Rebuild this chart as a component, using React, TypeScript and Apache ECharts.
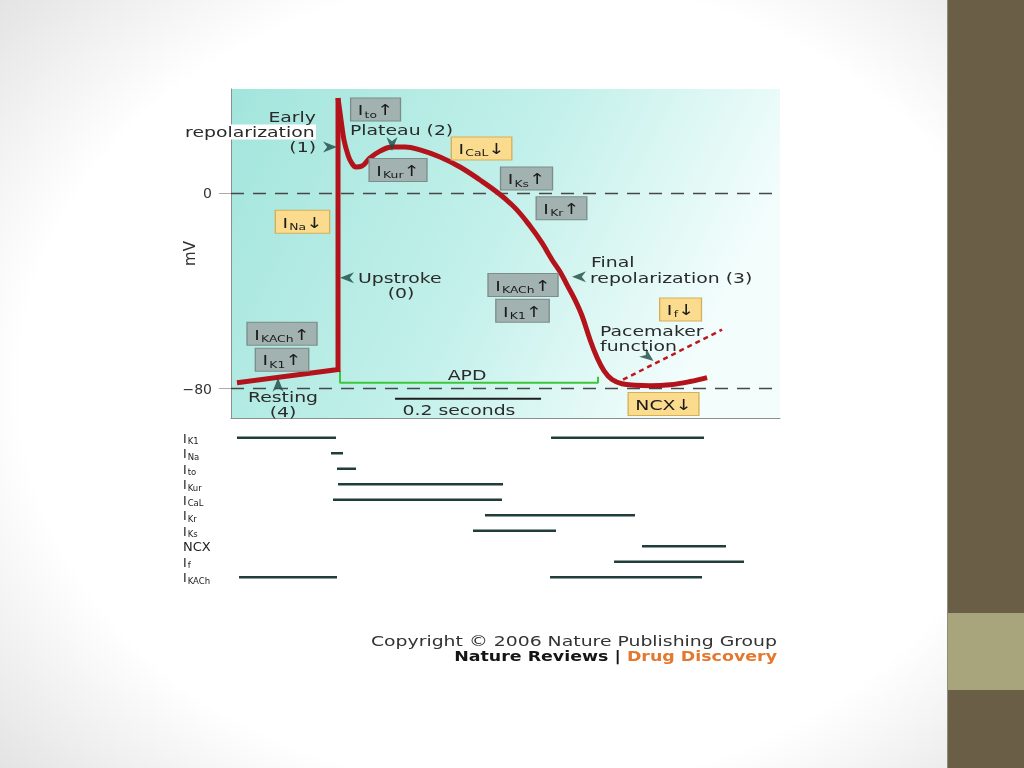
import React, { useEffect, useRef } from 'react';
import * as echarts from 'echarts';

const FONT = 'DejaVu Sans';
const SX = 1.3;

// ---- Action potential (time in ms, membrane potential in mV) ----
const apResting = [[8.2, -77.6], [146.6, -72.2], [146.6, 38.8]];
const apRepol = [
  [146.6, 38.8], [150.7, 29.8], [154.8, 21.6], [160.3, 15.5], [164.4, 12.7], [171.2, 10.6],
  [179.5, 11.0], [190.4, 14.3], [204.1, 17.1], [220.5, 18.8], [238.4, 18.8], [258.9, 17.6],
  [286.3, 14.7], [313.7, 10.6], [341.1, 5.3], [365.8, 0], [389, -6.1], [409.6, -13.5],
  [426, -20.4], [439.7, -27.3], [450.7, -32.2], [460.3, -37.6], [471.2, -43.7],
  [480.8, -50.2], [491.8, -60], [501.4, -67.3], [511, -72.7], [521.9, -76.3],
  [535.6, -78], [553.4, -78.6], [574, -78.8], [601.4, -78.4], [628.8, -77.1], [652.1, -75.5]
];
const pacemaker = [[537, -76.3], [672.6, -55.9]];
const apd = [[149.3, -72.7], [149.3, -77.6], [502.7, -77.6], [502.7, -75.1]];
const scaleBar = [[224.7, -84.1], [424.7, -84.1]];
const yTicks = [0, -80];
const refLines = [0, -80];

// ---- Ionic currents activity (start ms, end ms, row) ----
const currents = ['K1', 'Na', 'to', 'Kur', 'CaL', 'Kr', 'Ks', 'NCX', 'f', 'KACh'];
const currentSpans = [
  [8.2, 143.8, 0], [438.4, 647.9, 0],
  [137, 153.4, 1],
  [145.2, 171.2, 2],
  [146.6, 372.6, 3],
  [139.7, 371.2, 4],
  [347.9, 553.4, 5],
  [331.5, 445.2, 6],
  [563, 678, 7],
  [524.7, 702.7, 8],
  [11, 145.2, 9], [437, 645.2, 9]
];

// ---- Annotation boxes (current, direction, anchor in ms/mV) ----
const boxCurrents = ['to', 'Kur', 'Na', 'CaL', 'Ks', 'Kr', 'KACh', 'K1', 'KACh', 'K1', 'f', 'NCX'];
const boxArrows = ['↑', '↑', '↓', '↓', '↑', '↑', '↑', '↑', '↑', '↑', '↓', '↓'];
const boxAt = [
  [198, 34.1], [228.8, 9.4], [97.9, -11.8], [343.2, 18.2], [404.8, 5.9], [452.7, -6.3],
  [69.9, -57.6], [69.9, -68.2], [400, -37.6], [399.3, -48.2], [615.8, -47.6], [592.5, -86.3]
];

// ---- Text notes ----
const noteTexts = ['Early', 'repolarization', '(1)', 'Plateau (2)', 'Upstroke', '(0)', 'Resting', '(4)',
  'Final', 'repolarization (3)', 'Pacemaker', 'function', 'APD', '0.2 seconds'];
const noteAt = [
  [116.4, 31], [116.4, 24.9], [116.4, 18.8], [163, 25.7], [174, -34.7], [232.9, -40.8],
  [71.2, -83.3], [71.2, -89.4], [493.2, -28.2], [491.8, -34.7], [505.5, -56.3], [505.5, -62.4],
  [323.3, -74.3], [312.3, -88.6]
];
const noteAlign = ['right', 'right', 'right', 'left', 'left', 'center', 'center', 'center',
  'left', 'left', 'left', 'left', 'center', 'center'];

// ---- Pointer arrowheads ----
const pointerAt = [[135.6, 18.8], [220.5, 20.0], [158.9, -34.7], [64.4, -78.4], [476.7, -34.3], [571.2, -66.9]];
const pointerRot = [0, -90, 180, 90, 180, -38];

export default function App() {
  const ref = useRef<HTMLDivElement>(null);
  useEffect(() => {
    if (!ref.current) return;
    const chart = echarts.init(ref.current, null, { renderer: 'svg' });
    const option: any = {
      animation: false,
      grid: [
        {
          left: 231, top: 89, width: 549, height: 329, show: true, borderWidth: 0,
          backgroundColor: new echarts.graphic.LinearGradient(0, 0, 1, 0.3, [
            { offset: 0, color: '#a2e5dc' },
            { offset: 0.55, color: '#c2f0ea' },
            { offset: 1, color: '#f2fdfc' }
          ])
        },
        { left: 231, top: 430, width: 549, height: 155 }
      ],
      xAxis: [
        {
          type: 'value', gridIndex: 0, min: 0, max: 752,
          axisLine: { show: true, onZero: false, lineStyle: { color: '#8a8f8f', width: 1 } },
          axisTick: { show: false }, axisLabel: { show: false }, splitLine: { show: false }
        },
        { type: 'value', gridIndex: 1, min: 0, max: 752, show: false }
      ],
      yAxis: [
        {
          type: 'value', gridIndex: 0, min: -92, max: 42.5,
          name: 'mV', nameLocation: 'middle', nameGap: 34, nameRotate: 90, nameMoveOverlap: false,
          nameTextStyle: { fontFamily: FONT, fontSize: 15, color: '#333' },
          axisLine: { show: true, onZero: false, lineStyle: { color: '#8a8f8f', width: 1 } },
          axisTick: { show: true, customValues: yTicks, length: 12, lineStyle: { color: '#aaaaaa' } },
          axisLabel: {
            show: true, customValues: yTicks, margin: 19, fontFamily: FONT, fontSize: 14, color: '#333',
            formatter: (v: number) => (v < 0 ? '\u2212' + Math.abs(v) : String(v))
          },
          splitLine: { show: false }
        },
        {
          type: 'category', gridIndex: 1, data: currents, inverse: true,
          axisLine: { show: false }, axisTick: { show: false }, splitLine: { show: false },
          axisLabel: {
            interval: 0, align: 'left', margin: 48, color: '#222', fontFamily: FONT,
            formatter: (v: string) => (v === 'NCX' ? '{n|NCX}' : '{i|I}{s|' + v + '}'),
            rich: {
              i: { fontSize: 12.5, fontFamily: FONT, color: '#222', lineHeight: 12, verticalAlign: 'top' },
              s: { fontSize: 8.5, fontFamily: FONT, color: '#222', lineHeight: 8, padding: [5, 0, 0, 1], verticalAlign: 'top' },
              n: { fontSize: 13, fontFamily: FONT, color: '#222', lineHeight: 12 }
            }
          }
        }
      ],
      series: [
        {
          type: 'line', xAxisIndex: 0, yAxisIndex: 0, data: apd, symbol: 'none', silent: true,
          lineStyle: { color: '#3cc83a', width: 2 },
          markLine: {
            z: 1, silent: true, symbol: ['none', 'none'], label: { show: false },
            lineStyle: { type: [13, 9], color: '#474747', width: 1.3 },
            data: refLines.map((v) => ({ yAxis: v }))
          }
        },
        {
          type: 'line', xAxisIndex: 0, yAxisIndex: 0, data: scaleBar, symbol: 'none', silent: true,
          lineStyle: { color: '#1e1e1e', width: 2 }
        },
        {
          type: 'line', xAxisIndex: 0, yAxisIndex: 0, data: apResting, symbol: 'none', silent: true,
          lineStyle: { color: '#b3141b', width: 5, cap: 'butt', join: 'miter' }
        },
        {
          type: 'line', xAxisIndex: 0, yAxisIndex: 0, data: apRepol, symbol: 'none', silent: true,
          smooth: 0.4, lineStyle: { color: '#b3141b', width: 5, cap: 'butt' }
        },
        {
          type: 'line', xAxisIndex: 0, yAxisIndex: 0, data: pacemaker, symbol: 'none', silent: true,
          lineStyle: { color: '#c0161e', width: 2.5, type: [5, 4] }
        },
        {
          type: 'scatter', xAxisIndex: 0, yAxisIndex: 0, silent: true, z: 6,
          symbol: 'path://M0,0 L20,8 L0,16 L6,8 Z', symbolSize: [14, 11],
          itemStyle: { color: '#1c4a44' },
          data: pointerAt.map((p, i) => ({ value: p, symbolRotate: pointerRot[i] }))
        },
        {
          type: 'custom', xAxisIndex: 1, yAxisIndex: 1, silent: true, data: currentSpans,
          encode: { x: [0, 1], y: 2 },
          renderItem: (params: any, api: any) => {
            const a = api.coord([api.value(0), api.value(2)]);
            const b = api.coord([api.value(1), api.value(2)]);
            return {
              type: 'line',
              shape: { x1: a[0], y1: a[1], x2: b[0], y2: b[1] },
              style: { stroke: '#1f3d39', lineWidth: 2.5 }
            };
          }
        }
      ]
    };
    chart.setOption(option);

    const toPx = (p: number[]) => chart.convertToPixel({ gridIndex: 0 } as any, p) as number[];
    const elements: any[] = [];
    // page background with vignette and side bar
    elements.push({
      type: 'rect', z: -20, silent: true, shape: { x: 0, y: 0, width: 947, height: 768 },
      style: {
        fill: new echarts.graphic.RadialGradient(0.55, 0.5, 0.8, [
          { offset: 0, color: '#ffffff' },
          { offset: 0.66, color: '#ffffff' },
          { offset: 1, color: '#dcdcdc' }
        ])
      }
    });
    elements.push({ type: 'rect', z: -20, silent: true, shape: { x: 947, y: 0, width: 77, height: 768 }, style: { fill: '#6a5e46' } });
    elements.push({ type: 'rect', z: -19, silent: true, shape: { x: 947, y: 613, width: 77, height: 77 }, style: { fill: '#a8a47c' } });
    elements.push({ type: 'line', z: -19, silent: true, shape: { x1: 947.5, y1: 0, x2: 947.5, y2: 768 }, style: { stroke: '#8c8c80', lineWidth: 1 } });

    // text notes
    noteTexts.forEach((t, i) => {
      const [x, y] = toPx(noteAt[i]);
      const style: any = {
        text: t, fontFamily: FONT, fontSize: 14.5, fill: '#2a2a2a',
        align: noteAlign[i], verticalAlign: 'middle'
      };
      let z = 50;
      if (t === 'repolarization') {
        style.backgroundColor = '#ffffff';
        style.padding = [0, 1, 0, 1];
        z = 49;
      }
      elements.push({ type: 'text', x, y, scaleX: SX, z, silent: true, style });
    });

    // current boxes
    const rich = {
      i: { fontSize: 14.5, fontFamily: FONT, fill: '#1b1b1b', lineHeight: 17 },
      s: { fontSize: 9.5, fontFamily: FONT, fill: '#1b1b1b', lineHeight: 10, padding: [9, 0, 0, 1] },
      a: { fontSize: 15, fontFamily: 'DejaVu Sans', fill: '#1b1b1b', lineHeight: 17 },
      n: { fontSize: 14.5, fontFamily: FONT, fill: '#1b1b1b', lineHeight: 17 }
    };
    boxCurrents.forEach((c, i) => {
      const [x, y] = toPx(boxAt[i]);
      const down = boxArrows[i] === '↓';
      const text = c === 'NCX' ? '{n|NCX}{a|' + boxArrows[i] + '}' : '{i|I}{s|' + c + '}{a|' + boxArrows[i] + '}';
      elements.push({
        type: 'text', x, y, scaleX: SX, z: 60, silent: true,
        style: {
          text, rich, align: 'center', verticalAlign: 'middle',
          backgroundColor: down ? '#fbdb8d' : '#a1b2b0',
          borderColor: down ? '#d3af5a' : '#7b8c8a', borderWidth: 1,
          padding: [3, 5, 2, 5]
        }
      });
    });

    // copyright
    elements.push({
      type: 'text', x: 777, y: 641, scaleX: SX, z: 50, silent: true,
      style: { text: 'Copyright © 2006 Nature Publishing Group', fontFamily: FONT, fontSize: 14.5, fill: '#333', align: 'right', verticalAlign: 'middle' }
    });
    elements.push({
      type: 'text', x: 777, y: 657, scaleX: SX, z: 50, silent: true,
      style: {
        text: '{a|Nature Reviews | }{b|Drug Discovery}', align: 'right', verticalAlign: 'middle',
        rich: {
          a: { fontFamily: FONT, fontSize: 13.4, fontWeight: 'bold', fill: '#151515' },
          b: { fontFamily: FONT, fontSize: 13.4, fontWeight: 'bold', fill: '#e4782e' }
        }
      }
    });

    chart.setOption({ graphic: { elements } });
    return () => chart.dispose();
  }, []);
  return <div ref={ref} style={{ position: 'fixed', left: 0, top: 0, width: 1024, height: 768 }} />;
}
